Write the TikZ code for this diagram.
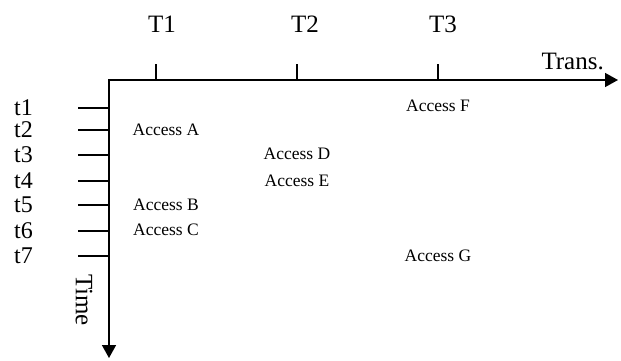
\documentclass[tikz,border=0pt]{standalone}
\usepackage{fontspec}
\setmainfont{Liberation Serif}
\usetikzlibrary{arrows.meta}
\begin{document}
\begin{tikzpicture}[x=1pt,y=-1pt,
  axis/.style={line width=1.6pt,-{Triangle[length=13pt,width=14pt]}},
  tick/.style={line width=1.4pt},
  txlabel/.style={font=\fontsize{25}{25}\selectfont,inner sep=0pt},
  tlabel/.style={font=\fontsize{24}{24}\selectfont,inner sep=0pt,anchor=east},
  access/.style={font=\fontsize{17.5}{17.5}\selectfont,inner sep=0pt}]
\useasboundingbox (0,0) rectangle (621,360);
% axes
\coordinate (o) at (109,80);
\coordinate (xend) at (618,80);
\coordinate (yend) at (109,358);
\draw[axis] ([xshift=-0.8pt]o) -- (xend);
\draw[axis] (o) -- (yend);
% transaction ticks and labels
\foreach \n/\x in {1/156,2/297,3/438}{
  \coordinate (tk\n) at (\x,80);
  \coordinate (tt\n) at (\x,64);
  \draw[tick] (tk\n) -- (tt\n);
}
\node[txlabel] (T1) at (162,24) {T1};
\node[txlabel] (T2) at (305,24) {T2};
\node[txlabel] (T3) at (443,24) {T3};
\node[txlabel,anchor=east] (trans) at (604,61) {Trans.};
% time ticks and labels
\foreach \n/\y in {1/108,2/130,3/155,4/181,5/205,6/231,7/256}{
  \coordinate (ta\n) at (109,\y);
  \coordinate (tb\n) at (78,\y);
  \draw[tick] (ta\n) -- (tb\n);
  \node[tlabel] (t\n) at (33,\y) {t\n};
}
\node[txlabel,rotate=-90] (time) at (84,300) {Time};
% accesses
\node[access] (A) at (166,130) {Access A};
\node[access] (B) at (166,205) {Access B};
\node[access] (C) at (166,230) {Access C};
\node[access] (D) at (297,154) {Access D};
\node[access] (E) at (297,181) {Access E};
\node[access] (F) at (438,106) {Access F};
\node[access] (G) at (438,256) {Access G};
\end{tikzpicture}
\end{document}
